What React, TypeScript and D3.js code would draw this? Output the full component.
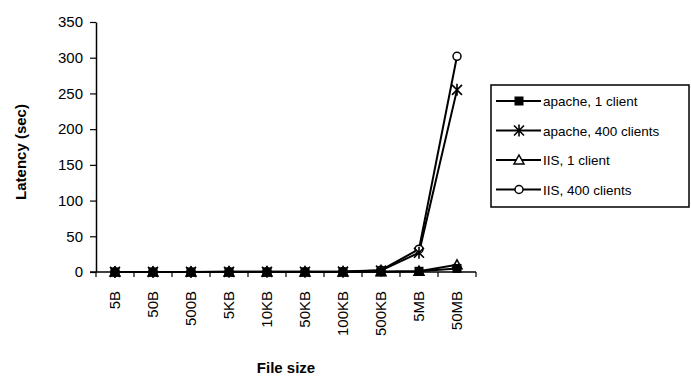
import React, { useRef, useEffect } from 'react'
import * as d3 from 'd3'

const categories = ['5B', '50B', '500B', '5KB', '10KB', '50KB', '100KB', '500KB', '5MB', '50MB']
const apache1 = [0.01, 0.01, 0.01, 0.01, 0.01, 0.02, 0.05, 0.3, 1, 5]
const apache400 = [0.1, 0.1, 0.1, 0.2, 0.2, 0.3, 0.5, 2, 27, 255]
const iis1 = [0.01, 0.01, 0.01, 0.01, 0.01, 0.02, 0.05, 0.3, 1.2, 10]
const iis400 = [0.1, 0.1, 0.1, 0.2, 0.2, 0.3, 0.6, 2.5, 32, 302]
const yTicks = [0, 50, 100, 150, 200, 250, 300, 350]

const series = [
  { name: 'apache, 1 client', values: apache1, marker: 'square' },
  { name: 'apache, 400 clients', values: apache400, marker: 'star' },
  { name: 'IIS, 1 client', values: iis1, marker: 'triangle' },
  { name: 'IIS, 400 clients', values: iis400, marker: 'circle' },
]

const FONT = 'Liberation Sans, Arial, sans-serif'

const drawMarker = (g, kind, x, y) => {
  if (kind === 'square') {
    g.append('rect').attr('x', x - 4.5).attr('y', y - 4.5).attr('width', 9).attr('height', 9).attr('fill', '#000')
  } else if (kind === 'star') {
    const r = 5
    g.append('path')
      .attr('d', `M${x - r},${y - r}L${x + r},${y + r}M${x - r},${y + r}L${x + r},${y - r}M${x},${y - r - 1}L${x},${y + r + 1}`)
      .attr('stroke', '#000').attr('stroke-width', 1.6).attr('fill', 'none')
  } else if (kind === 'triangle') {
    g.append('path')
      .attr('d', `M${x},${y - 5}L${x + 5},${y + 4}L${x - 5},${y + 4}Z`)
      .attr('stroke', '#000').attr('stroke-width', 1.5).attr('fill', '#fff')
  } else {
    g.append('circle').attr('cx', x).attr('cy', y).attr('r', 4)
      .attr('stroke', '#000').attr('stroke-width', 1.5).attr('fill', '#fff')
  }
}

const App = () => {
  const svgRef = useRef(null)

  useEffect(() => {
    const svg = d3.select(svgRef.current)
    svg.selectAll('*').remove()
    const margin = { top: 22, left: 96 }
    const chartWidth = 380
    const chartHeight = 250

    const g = svg.append('g').attr('transform', `translate(${margin.left},${margin.top})`)

    const x = d3.scaleBand().domain(categories).range([0, chartWidth])
    const y = d3.scaleLinear().domain([0, 350]).range([chartHeight, 0])

    // y axis
    const yAxis = g.append('g')
      .call(d3.axisLeft(y).tickValues(yTicks).tickSize(6).tickSizeOuter(0))
    yAxis.select('.domain').attr('stroke-width', 1.5)
    yAxis.selectAll('line').attr('stroke-width', 1.2)
    yAxis.selectAll('text').attr('font-family', FONT).attr('font-size', 15).attr('fill', '#000').attr('dx', -4)

    // x axis: ticks at band boundaries, pointing down
    const xg = g.append('g').attr('transform', `translate(0,${chartHeight})`)
    xg.append('line').attr('x1', -6).attr('x2', chartWidth).attr('stroke', '#000').attr('stroke-width', 1.5)
    categories.forEach((c, i) => {
      const bx = x(c) + x.bandwidth()
      xg.append('line').attr('x1', bx).attr('x2', bx).attr('y1', 0).attr('y2', 5).attr('stroke', '#000').attr('stroke-width', 1.2)
      if (i === 0) xg.append('line').attr('x1', x(c)).attr('x2', x(c)).attr('y1', 0).attr('y2', 5).attr('stroke', '#000').attr('stroke-width', 1.2)
      const cx = x(c) + x.bandwidth() / 2
      xg.append('text')
        .attr('transform', `translate(${cx + 5},${19}) rotate(-90)`)
        .attr('text-anchor', 'end')
        .attr('font-family', FONT).attr('font-size', 15)
        .text(c)
    })

    // lines and markers (drawn in reverse so apache, 1 client sits on top)
    const line = d3.line()
      .x((d, i) => x(categories[i]) + x.bandwidth() / 2)
      .y(d => y(d))
    const order = series.slice().reverse()
    order.forEach(s => {
      g.append('path').datum(s.values).attr('d', line).attr('fill', 'none').attr('stroke', '#000').attr('stroke-width', 2)
    })
    order.forEach(s => {
      s.values.forEach((v, i) => {
        drawMarker(g, s.marker, x(categories[i]) + x.bandwidth() / 2, y(v))
      })
    })

    // axis titles
    svg.append('text')
      .attr('transform', `translate(26,${margin.top + chartHeight / 2 + 5}) rotate(-90)`)
      .attr('text-anchor', 'middle')
      .attr('font-family', FONT).attr('font-size', 15).attr('font-weight', 'bold')
      .text('Latency (sec)')
    svg.append('text')
      .attr('x', margin.left + chartWidth / 2).attr('y', 373)
      .attr('text-anchor', 'middle')
      .attr('font-family', FONT).attr('font-size', 15).attr('font-weight', 'bold')
      .text('File size')

    // legend
    const lg = svg.append('g').attr('transform', 'translate(491,85)')
    lg.append('rect').attr('width', 198).attr('height', 122).attr('fill', '#fff').attr('stroke', '#000').attr('stroke-width', 1.5)
    series.forEach((s, i) => {
      const ly = 16 + i * 29.5
      lg.append('line').attr('x1', 5).attr('x2', 50).attr('y1', ly).attr('y2', ly).attr('stroke', '#000').attr('stroke-width', 2)
      drawMarker(lg, s.marker, 28, ly)
      lg.append('text').attr('x', 52).attr('y', ly + 5)
        .attr('font-family', FONT).attr('font-size', 13.5)
        .text(s.name)
    })
  }, [])

  return (
    <svg ref={svgRef} width={691} height={380} style={{ position: 'absolute', left: 0, top: 0 }}></svg>
  )
}

export default App
